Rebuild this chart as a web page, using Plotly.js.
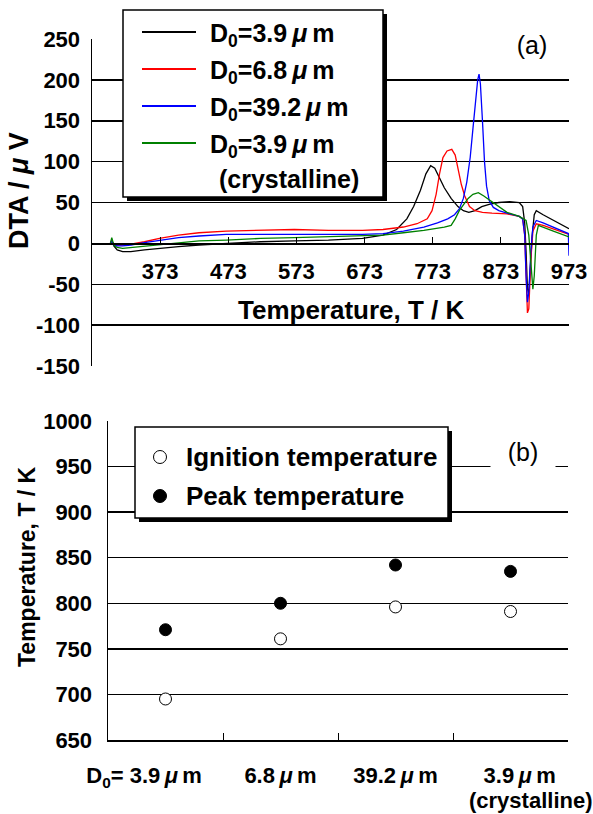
<!DOCTYPE html>
<html>
<head>
<meta charset="utf-8">
<script src="https://cdn.plot.ly/plotly-3.0.1.min.js"></script>
<style>html,body{margin:0;padding:0;background:#fff;}#chart{width:593px;height:814px;}</style>
</head>
<body>
<div id="chart"></div>
<script>
// ---------- DATA (a): DTA curves ----------
const TS = '\u2009';   // thin space
const NB = '\u00a0';   // no-break space
const seriesNames = ['D<sub>0</sub>=3.9' + TS + '<i>μ</i>' + TS + 'm', 'D<sub>0</sub>=6.8' + TS + '<i>μ</i>' + TS + 'm', 'D<sub>0</sub>=39.2' + TS + '<i>μ</i>' + TS + 'm', 'D<sub>0</sub>=3.9' + TS + '<i>μ</i>' + TS + 'm'];
const seriesNote = '(crystalline)';
const seriesColors = ['#000000', '#ff0000', '#0000ff', '#008000'];

const T_black = [300,302,305,310,318,330,350,372,400,430,470,520,570,620,670,700,720,735,745,755,763,770,776,782,790,800,810,818,826,835,845,857,870,886,900,905,908,910,912,914,916,919,922,925,935,950,973];
const DTA_black = [0,4,-3,-8,-10,-10,-8,-6,-4,-2,0,2,3,4,6,10,17,30,45,65,85,95,92,82,68,55,45,40,38,40,45,48,50,51,50,45,25,-10,-55,-62,-30,10,35,40,35,28,18];

const T_red = [300,302,305,310,318,330,350,372,400,430,470,520,570,620,670,700,730,750,765,772,778,783,788,794,801,806,810,815,820,827,835,846,860,882,900,905,908,910,912,914,917,920,925,935,950,973];
const DTA_red = [0,3,-1,-2,-2,-1,2,6,10,13,15,16,17,16,16,17,20,24,30,40,60,85,105,113,115,108,90,72,58,45,40,38,37,36,33,30,10,-40,-85,-80,-20,15,24,22,18,11];

const T_blue = [300,302,305,310,318,330,350,372,400,430,470,520,570,620,670,700,730,760,780,795,805,812,818,823,828,832,836,839,841,843,846,849,852,856,862,870,882,900,905,908,910,912,914,917,920,925,935,950,970,972,973];
const DTA_blue = [0,3,-2,-3,-3,-2,1,4,7,9,11,11,11,11,11,12,15,20,25,30,35,42,55,75,105,140,175,200,207,195,150,100,70,52,44,40,37,33,30,10,-40,-72,-60,-10,20,28,25,20,13,12,-15];

const T_green = [300,302,305,310,318,330,350,372,400,430,470,520,570,620,670,700,730,760,790,800,806,812,818,825,832,840,848,857,870,882,900,910,914,917,920,922,925,928,935,950,973];
const DTA_green = [0,7,-2,-5,-6,-5,-3,-1,1,3,4,6,7,8,9,10,13,16,20,22,30,40,47,55,60,62,58,53,45,38,33,28,10,-30,-56,-40,10,22,20,15,8];

const xTicksA = [373,473,573,673,773,873,973];
const yTicksA = [-150,-100,-50,0,50,100,150,200,250];

// ---------- DATA (b): characteristic temperatures ----------
const samples = [
  'D<sub>0</sub>= 3.9' + TS + '<i>μ</i>' + TS + 'm' + NB.repeat(7),
  '6.8' + TS + '<i>μ</i>' + TS + 'm',
  '39.2' + TS + '<i>μ</i>' + TS + 'm',
  NB.repeat(3) + '3.9' + TS + '<i>μ</i>' + TS + 'm'
];
const sampleNote = '(crystalline)';
const ignitionT = [695, 761, 796, 791];
const peakT = [771, 800, 842, 835];
const yTicksB = [650,700,750,800,850,900,950,1000];
const legendB = ['Ignition temperature', 'Peak temperature'];

// ---------- LAYOUT HELPERS ----------
const W = 593, H = 814;
const px = x => x / W;
const py = y => 1 - y / H;
const FONT = 'Liberation Sans, Arial, Helvetica, sans-serif';
const bold = (s) => ({family: FONT, size: s, color: '#000', weight: 'bold'});

const yRangeA = [-150, 250];
const yDomA = [py(366), py(39)];
const xAxisPosA = yDomA[0] + (0 - yRangeA[0]) / (yRangeA[1] - yRangeA[0]) * (yDomA[1] - yDomA[0]);

const xs = [T_black, T_red, T_blue, T_green];
const ys = [DTA_black, DTA_red, DTA_blue, DTA_green];
const traces = xs.map((x, i) => ({
  type: 'scatter', mode: 'lines', x: x, y: ys[i],
  name: seriesNames[i], line: {color: seriesColors[i], width: 1.3},
  xaxis: 'x', yaxis: 'y', showlegend: false, hoverinfo: 'skip'
}));
traces.push({
  type: 'scatter', mode: 'markers', x: samples, y: ignitionT, name: legendB[0],
  xaxis: 'x2', yaxis: 'y2', showlegend: false,
  marker: {symbol: 'circle', size: 12, color: '#ffffff', line: {color: '#000', width: 1}}
});
traces.push({
  type: 'scatter', mode: 'markers', x: samples, y: peakT, name: legendB[1],
  xaxis: 'x2', yaxis: 'y2', showlegend: false,
  marker: {symbol: 'circle', size: 12, color: '#000000', line: {color: '#000', width: 1}}
});

// legend geometry (pixels)
const legA = {x0: 123, x1: 383, y0: 10, y1: 197, lx0: 142, lx1: 196, tx: 208, rows: [32, 69, 106, 143]};
const legB = {x0: 135, x1: 448, y0: 427, y1: 518, mx: 160, tx: 184, rows: [457, 496]};

const shapes = [];
const annotations = [];
function box(b) {
  shapes.push({type: 'rect', xref: 'paper', yref: 'paper', layer: 'above',
    x0: px(b.x0 + 4), x1: px(b.x1 + 4), y0: py(b.y1 + 4), y1: py(b.y0 + 4),
    fillcolor: '#000', line: {width: 0}});
  shapes.push({type: 'rect', xref: 'paper', yref: 'paper', layer: 'above',
    x0: px(b.x0), x1: px(b.x1), y0: py(b.y1), y1: py(b.y0),
    fillcolor: '#fff', line: {color: '#000', width: 1.5}});
}
box(legA);
box(legB);
legA.rows.forEach((r, i) => {
  shapes.push({type: 'line', xref: 'paper', yref: 'paper', layer: 'above',
    x0: px(legA.lx0), x1: px(legA.lx1), y0: py(r), y1: py(r),
    line: {color: seriesColors[i], width: 2}});
  annotations.push({xref: 'paper', yref: 'paper', x: px(legA.tx), y: py(r + 3),
    xanchor: 'left', yanchor: 'middle', showarrow: false, text: seriesNames[i], font: bold(25)});
});
annotations.push({xref: 'paper', yref: 'paper', x: px(217), y: py(179),
  xanchor: 'left', yanchor: 'middle', showarrow: false, text: seriesNote, font: bold(25)});

legB.rows.forEach((r, i) => {
  shapes.push({type: 'circle', xref: 'paper', yref: 'paper', layer: 'above',
    x0: px(legB.mx - 6.5), x1: px(legB.mx + 6.5), y0: py(r + 6.5), y1: py(r - 6.5),
    fillcolor: i === 0 ? '#fff' : '#000', line: {color: '#000', width: 1}});
  annotations.push({xref: 'paper', yref: 'paper', x: px(legB.tx), y: py(r),
    xanchor: 'left', yanchor: 'middle', showarrow: false, text: legendB[i], font: bold(26)});
});

// second line of the last category label
annotations.push({xref: 'x2', yref: 'paper', x: samples[3], y: py(800), xshift: 20,
  xanchor: 'center', yanchor: 'middle', showarrow: false, text: sampleNote, font: bold(22)});

// panel labels
annotations.push({xref: 'paper', yref: 'paper', x: px(532), y: py(45), xanchor: 'center', yanchor: 'middle',
  showarrow: false, text: '(a)', font: {family: FONT, size: 25, color: '#000'}, bgcolor: '#fff', width: 58});
annotations.push({xref: 'paper', yref: 'paper', x: px(523), y: py(452), xanchor: 'center', yanchor: 'middle',
  showarrow: false, text: '(b)', font: {family: FONT, size: 25, color: '#000'}, bgcolor: '#fff', width: 62});

// axis titles
annotations.push({xref: 'paper', yref: 'paper', x: px(351), y: py(310), xanchor: 'center', yanchor: 'middle',
  showarrow: false, text: 'Temperature, T / K', font: bold(26)});
annotations.push({xref: 'paper', yref: 'paper', x: px(19), y: py(191), xanchor: 'center', yanchor: 'middle',
  showarrow: false, textangle: -90, text: 'DTA / <i>μ</i> V', font: bold(27)});
annotations.push({xref: 'paper', yref: 'paper', x: px(27), y: py(567), xanchor: 'center', yanchor: 'middle',
  showarrow: false, textangle: -90, text: 'Temperature, T / K', font: bold(23)});

const layout = {
  width: W, height: H,
  margin: {l: 0, r: 0, t: 0, b: 0},
  paper_bgcolor: '#fff', plot_bgcolor: 'rgba(0,0,0,0)',
  showlegend: false,
  font: {family: FONT, color: '#000'},
  xaxis: {
    domain: [px(92), px(569)], range: [273, 973], anchor: 'free', position: xAxisPosA,
    tickmode: 'array', tickvals: xTicksA, ticktext: xTicksA.map(String),
    ticks: 'inside', ticklen: 6, tickwidth: 1, tickcolor: '#000',
    showline: true, linecolor: '#000', linewidth: 1.5, tickangle: 0,
    showgrid: false, zeroline: false, tickfont: bold(22), ticklabelstandoff: 8
  },
  yaxis: {
    domain: yDomA, range: yRangeA, anchor: 'x',
    tickmode: 'array', tickvals: yTicksA, ticktext: yTicksA.map(String),
    showgrid: true, gridcolor: '#000', gridwidth: 1.5,
    showline: true, linecolor: '#000', linewidth: 1.5, zeroline: false,
    ticks: '', tickfont: bold(22), ticklabelstandoff: 6
  },
  xaxis2: {
    domain: [px(108), px(568)], type: 'category', categoryorder: 'array', categoryarray: samples,
    range: [-0.5, 3.5], anchor: 'y2', tickson: 'boundaries', tickangle: 0,
    ticks: 'inside', ticklen: 7, tickwidth: 1, tickcolor: '#000',
    showline: true, linecolor: '#000', linewidth: 1.5,
    showgrid: false, zeroline: false, tickfont: bold(22), ticklabelstandoff: 15
  },
  yaxis2: {
    domain: [py(740), py(421)], range: [650, 1000], anchor: 'x2',
    tickmode: 'array', tickvals: yTicksB, ticktext: yTicksB.map(String),
    showgrid: true, gridcolor: '#000', gridwidth: 1.5,
    showline: true, linecolor: '#000', linewidth: 1.5, zeroline: false,
    ticks: '', tickfont: bold(22), ticklabelstandoff: 10
  },
  shapes: shapes,
  annotations: annotations
};

Plotly.newPlot('chart', traces, layout, {staticPlot: true, displayModeBar: false});
</script>
</body>
</html>
